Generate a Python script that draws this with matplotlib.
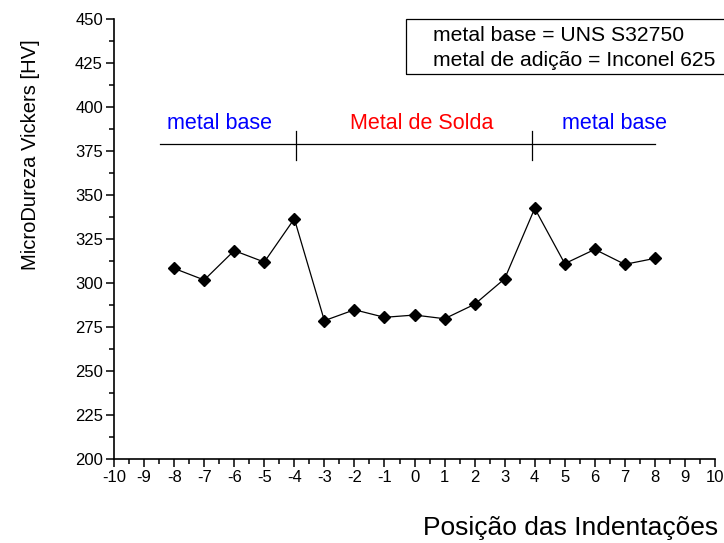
import matplotlib
matplotlib.use('Agg')
import matplotlib.pyplot as plt
from matplotlib.ticker import MultipleLocator
from matplotlib.patches import Rectangle

plt.rcParams['font.family'] = ['Liberation Sans', 'DejaVu Sans']
plt.rcParams['axes.unicode_minus'] = False

# posições das indentações e microdureza (HV)
posicoes = [-8, -7, -6, -5, -4, -3, -2, -1, 0, 1, 2, 3, 4, 5, 6, 7, 8]
dureza = [308.3, 301.7, 318.4, 311.9, 336.5, 278.6, 284.8, 280.5, 281.8,
          279.7, 287.9, 302.4, 342.4, 311.0, 319.1, 310.6, 314.0]

# regiões da junta soldada
regioes = ['metal base', 'Metal de Solda', 'metal base']
regioes_x = [-6.48, 0.25, 6.65]
regioes_cor = ['blue', 'red', 'blue']
linha_x = [-8.47, 8.0]
linha_y = 379.0
divisorias = [-3.95, 3.9]

legenda = ['metal base = UNS S32750', 'metal de adição = Inconel 625']

fig = plt.figure(figsize=(7.24, 5.43), dpi=100)
ax = fig.add_axes([0.1575, 0.1547, 0.9876 - 0.1575, 0.965 - 0.1547])

ax.plot(posicoes, dureza, color='black', linewidth=0.9, marker='D',
        markersize=6.5, markerfacecolor='black', markeredgecolor='black')

# linha das regiões
ax.plot(linha_x, [linha_y, linha_y], color='black', linewidth=0.9)
for xd in divisorias:
    ax.plot([xd, xd], [370, 386.5], color='black', linewidth=0.9)
for txt, xt, cor in zip(regioes, regioes_x, regioes_cor):
    ax.text(xt, 387.5, txt, color=cor, fontsize=15.5, ha='center', va='baseline')

# caixa de informação
ax.add_patch(Rectangle((-0.27, 418.7), 12, 450 - 418.7, fill=False,
                       edgecolor='black', linewidth=0.9, clip_on=False))
ax.text(0.6, 440.9, legenda[0], fontsize=15.2, ha='left', va='center')
ax.text(0.6, 426.7, legenda[1], fontsize=15.2, ha='left', va='center')

ax.set_xlim(-10, 10)
ax.set_ylim(200, 450)
ax.xaxis.set_major_locator(MultipleLocator(1))
ax.xaxis.set_minor_locator(MultipleLocator(0.5))
ax.yaxis.set_major_locator(MultipleLocator(25))
ax.yaxis.set_minor_locator(MultipleLocator(12.5))
ax.spines['top'].set_visible(False)
ax.spines['right'].set_visible(False)
ax.spines['left'].set_linewidth(1.2)
ax.spines['bottom'].set_linewidth(1.2)
ax.tick_params(which='major', direction='out', length=6, width=1.1,
               labelsize=12, pad=2)
ax.tick_params(which='minor', direction='out', length=3.5, width=1.1)

fig.text(0.992, 1 - 535 / 543, 'Posição das Indentações', fontsize=19,
         ha='right', va='baseline')
fig.text(31 / 724, 1 - 155 / 543, 'MicroDureza Vickers [HV]', fontsize=14.5,
         rotation=90, ha='center', va='center')

fig.savefig('out.png', dpi=100)
